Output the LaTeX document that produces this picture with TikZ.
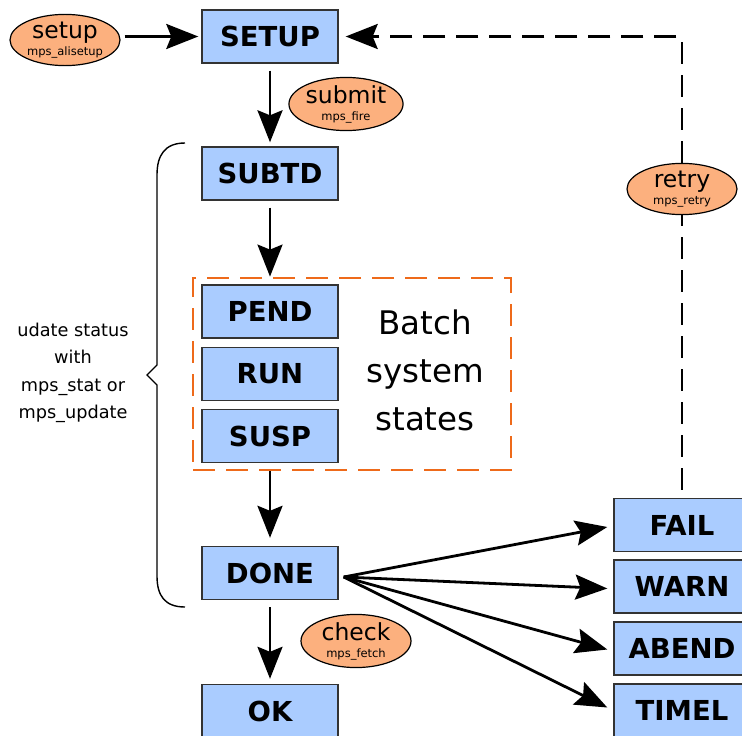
\documentclass[tikz,border=0pt]{standalone}
\usepackage{fontspec}
\setmainfont{DejaVu Sans}
\usetikzlibrary{arrows.meta,calc,shapes.geometric}

\definecolor{stateblue}{HTML}{AACCFF}
\definecolor{callorange}{HTML}{FCB07E}
\definecolor{batchorange}{HTML}{EE6A1A}
\definecolor{boxline}{HTML}{333333}

\newcommand\callmain[1]{{\fontsize{23.5}{17}\selectfont #1}}

\tikzset{bigtip/.tip={Stealth[length=32pt,width=25pt,inset=5pt]}}

\begin{document}
\begin{tikzpicture}[x=1pt,y=-1pt,
  state/.style={draw=boxline, line width=1.4pt, fill=stateblue,
    minimum width=136pt, minimum height=53pt, inner sep=0pt,
    font=\fontsize{27.5}{30}\selectfont\bfseries},
  call/.style={ellipse, draw=black, line width=1.2pt, fill=callorange,
    minimum width=110pt, minimum height=48pt, inner sep=0pt, align=center,
    font=\fontsize{11.5}{17}\selectfont},
  flow/.style={-{bigtip}, line width=2.8pt},
  retryline/.style={line width=2.8pt, dash pattern=on 22pt off 11pt},
]
\clip (0,0) rectangle (742,736);

% main chain of job states
\node[state] (SETUP) at (270,36.5) {SETUP};
\node[state] (SUBTD) at (270,173.5) {SUBTD};
\node[state] (PEND)  at (270,311.5) {PEND};
\node[state] (RUN)   at (270,374)   {RUN};
\node[state] (SUSP)  at (270,436)   {SUSP};
\node[state] (DONE)  at (270,573)   {DONE};
\node[state] (OK)    at (270,711)   {OK};

% final states after checking
\node[state] (FAIL)  at (682,525)   {FAIL};
\node[state] (WARN)  at (682,586.5) {WARN};
\node[state] (ABEND) at (682,648.5) {ABEND};
\node[state] (TIMEL) at (682,710.5) {TIMEL};

% batch system group
\node[draw=batchorange, line width=2.8pt, dash pattern=on 22pt off 11pt,
  minimum width=318pt, minimum height=192pt, inner sep=0pt] (batch) at (352,374) {};
\node[align=center, font=\fontsize{32.5}{48}\selectfont] (batchText) at (425,370)
  {Batch\\system\\states};

% function calls
\node[call] (setupCall)  at (65,40)   {\callmain{setup}\\mps\_alisetup};
\node[call] (submitCall) at (346,104) {\callmain{submit}\\mps\_fire};
\node[call] (retryCall)  at (682,189) {\callmain{retry}\\mps\_retry};
\node[call, minimum height=53pt] (checkCall) at (356,641) {\callmain{check}\\mps\_fetch};

% status update brace
\draw[line width=1.4pt] (185,143) .. controls (165,143) and (157,155) .. (157,175)
  -- (157,365) -- (147,375) -- (157,385) -- (157,576)
  .. controls (157,596) and (165,607) .. (185,607);
\node[align=center, font=\fontsize{17.7}{27.5}\selectfont] (braceText) at (73,373)
  {udate status\\with\\mps\_stat or\\mps\_update};

% flow arrows
\draw[flow, shorten <=4pt, shorten >=3pt] (setupCall.east |- SETUP.west) -- (SETUP.west);
\draw[flow, shorten <=7pt, shorten >=4pt] (SETUP.south) -- (SUBTD.north);
\draw[flow, shorten <=7pt] (SUBTD.south) -- (SUBTD.south |- batch.north);
\draw[flow, shorten >=8pt] (DONE.north |- batch.south) -- (DONE.north);
\draw[flow, shorten <=7pt, shorten >=5pt] (DONE.south) -- (OK.north);

\coordinate (fan) at ($(DONE.east)+(5,4)$);
\draw[flow] (fan) -- ($(FAIL.west)+(-6,2)$);
\draw[flow] (fan) -- ($(WARN.west)+(-6,2)$);
\draw[flow] (fan) -- ($(ABEND.west)+(-6,1)$);
\draw[flow] (fan) -- ($(TIMEL.west)+(-6,-3)$);

% retry loop back to setup
\draw[retryline, shorten <=8pt] (FAIL.north) -- (retryCall.south);
\draw[retryline, -{bigtip}, shorten >=7pt] (retryCall.north) |- (SETUP.east);
\end{tikzpicture}
\end{document}
